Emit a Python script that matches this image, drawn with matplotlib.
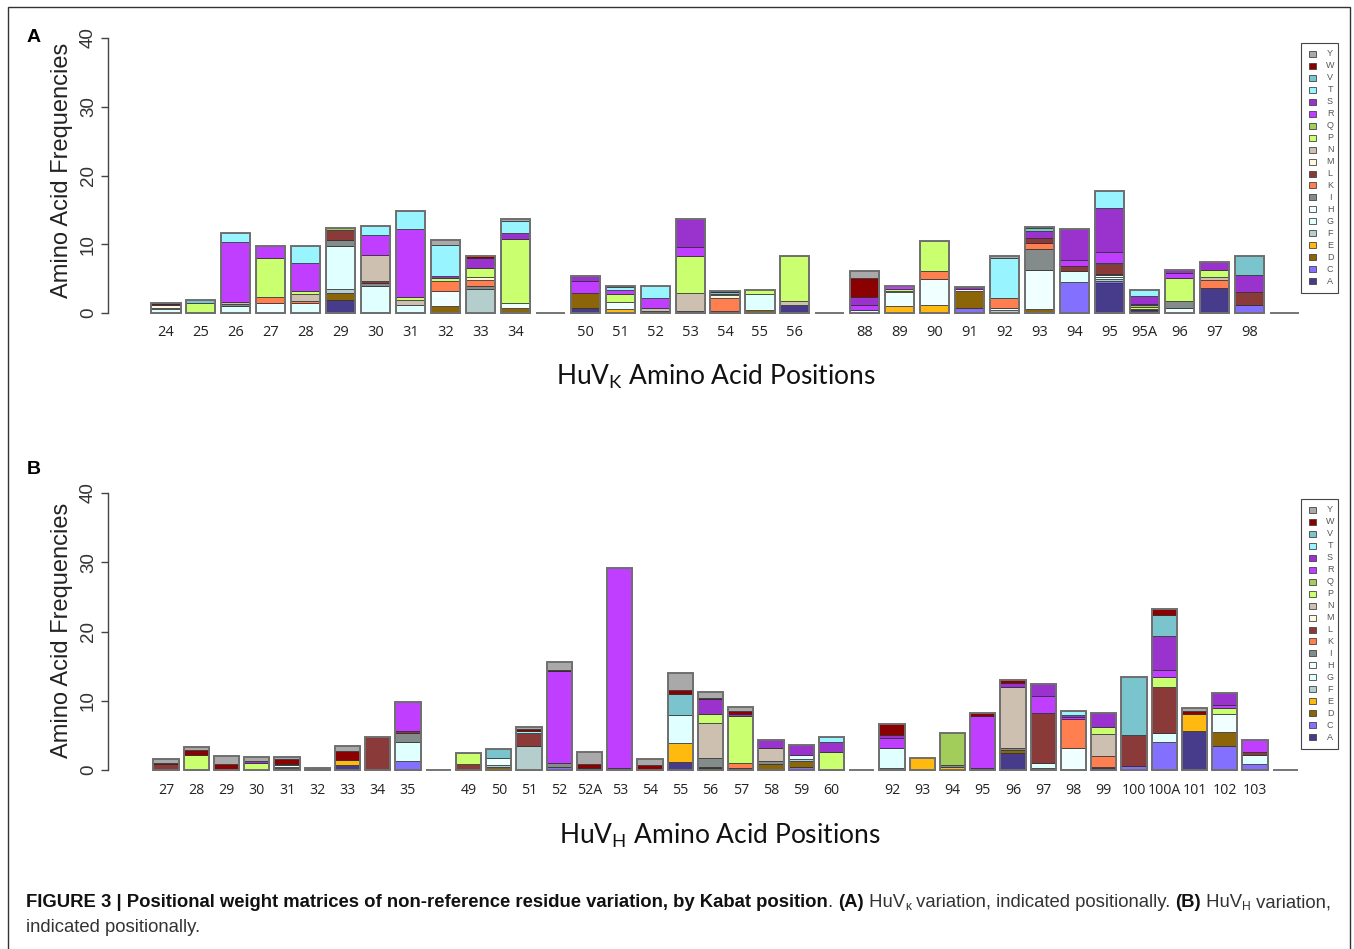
import matplotlib
matplotlib.use('Agg')
import matplotlib.pyplot as plt
from matplotlib.patches import Rectangle
from matplotlib import font_manager as fm

# ---------------- data ----------------
residues = list('ACDEFGHIKLMNPQRSTVWY')
residue_colors = ['#473C8B', '#8470FF', '#8B6508', '#FFB90F', '#B4CDCD',
                  '#E0FFFF', '#F0FFFF', '#838B8B', '#FF7F50', '#8B3A3A',
                  '#FFF8DC', '#CDC0B0', '#CAFF70', '#A2CD5A', '#BF3EFF',
                  '#9A32CD', '#98F5FF', '#7AC5CD', '#8B0000', '#A9A9A9']

kappa_cdr1_labels = ['24', '25', '26', '27', '28', '29', '30', '31', '32', '33', '34']
kappa_cdr1 = [
    {'G': .6, 'H': .1, 'M': .4, 'S': .2, 'W': .2},
    {'I': .2, 'P': 1.3, 'V': .4},
    {'G': 1.0, 'I': .3, 'N': .3, 'R': 8.7, 'T': 1.4},
    {'H': 1.4, 'K': .9, 'P': 5.7, 'R': 1.7},
    {'G': 1.4, 'K': .3, 'N': 1.1, 'P': .4, 'R': 4.1, 'T': 2.4},
    {'A': 1.9, 'D': 1.0, 'F': .6, 'G': 6.2, 'I': .9, 'L': 1.45, 'Q': .25},
    {'A': .2, 'G': 3.8, 'I': .4, 'L': .3, 'N': 3.8, 'R': 2.85, 'T': 1.25},
    {'D': .2, 'G': .9, 'N': .8, 'P': .45, 'R': 9.8, 'T': 2.75},
    {'D': 1.05, 'H': 2.2, 'K': 1.4, 'P': .5, 'S': .3, 'T': 4.45, 'Y': .75},
    {'F': 3.5, 'I': .45, 'K': .9, 'M': .35, 'P': 1.35, 'S': 1.45, 'W': .35},
    {'D': .7, 'H': .75, 'P': 9.3, 'S': .95, 'T': 1.7, 'Y': .25},
]
kappa_cdr2_labels = ['50', '51', '52', '53', '54', '55', '56']
kappa_cdr2 = [
    {'A': .8, 'D': 2.1, 'R': 1.8, 'S': .75},
    {'E': .65, 'H': 1.0, 'P': 1.1, 'R': .6, 'T': .5, 'V': .15},
    {'A': .25, 'N': .5, 'R': 1.45, 'T': 1.7},
    {'A': .3, 'N': 2.6, 'P': 5.35, 'R': 1.35, 'S': 4.1},
    {'H': .3, 'K': 1.85, 'M': .4, 'T': .25, 'V': .2, 'W': .2},
    {'D': .4, 'G': 2.4, 'P': .5},
    {'A': 1.2, 'N': .6, 'P': 6.55},
]
kappa_cdr3_labels = ['88', '89', '90', '91', '92', '93', '94', '95', '95A', '96', '97', '98']
kappa_cdr3 = [
    {'G': .4, 'R': .8, 'S': 1.2, 'W': 2.75, 'Y': .9},
    {'E': 1.0, 'H': 2.0, 'M': .25, 'P': .3, 'R': .45},
    {'E': 1.1, 'H': 3.8, 'K': 1.15, 'P': 4.45},
    {'C': .8, 'D': 2.4, 'M': .25, 'S': .3},
    {'F': .45, 'H': .25, 'K': 1.55, 'T': 5.7, 'Y': .35},
    {'D': .65, 'H': 5.6, 'I': 3.0, 'K': 1.0, 'L': .7, 'S': 1.0, 'V': .35, 'Y': .25},
    {'C': 4.45, 'G': 1.7, 'L': .65, 'R': .95, 'S': 4.45},
    {'A': 4.4, 'C': .25, 'F': .3, 'G': .3, 'H': .3, 'I': .15, 'L': 1.4, 'M': .2,
     'R': 1.55, 'S': 6.45, 'T': 2.5},
    {'A': .4, 'L': .2, 'P': .3, 'Q': .25, 'R': .15, 'S': 1.2, 'T': .9},
    {'H': .7, 'I': 1.0, 'P': 3.4, 'R': .7, 'S': .5},
    {'A': 3.6, 'K': 1.15, 'N': .5, 'P': 1.0, 'S': 1.1},
    {'C': 1.1, 'L': 2.0, 'S': 2.5, 'V': 2.7},
]

heavy_cdr1_labels = ['27', '28', '29', '30', '31', '32', '33', '34', '35']
heavy_cdr1 = [
    {'L': .8, 'W': .15, 'Y': .7},
    {'I': .2, 'P': 1.9, 'W': .85, 'Y': .3},
    {'L': .2, 'W': .6, 'Y': 1.15},
    {'P': .95, 'S': .3, 'Y': .6},
    {'C': .25, 'G': .25, 'H': .15, 'I': .2, 'W': .8, 'Y': .2},
    {'S': .25},
    {'A': .7, 'E': .7, 'W': 1.4, 'Y': .7},
    {'L': 4.7},
    {'C': 1.35, 'G': 2.65, 'I': 1.3, 'L': .4, 'R': 4.05},
]
heavy_cdr2_labels = ['49', '50', '51', '52', '52A', '53', '54', '55', '56', '57', '58', '59', '60']
heavy_cdr2 = [
    {'A': .2, 'L': .7, 'P': 1.5},
    {'D': .45, 'F': .3, 'H': .95, 'V': 1.3},
    {'F': 3.45, 'L': 1.85, 'T': .3, 'W': .25, 'Y': .35},
    {'C': .45, 'I': .5, 'R': 13.3, 'W': .25, 'Y': 1.1},
    {'A': .3, 'W': .5, 'Y': 1.75},
    {'F': .25, 'R': 28.95},
    {'A': .2, 'W': .5, 'Y': .85},
    {'A': 1.2, 'E': 2.75, 'G': 4.05, 'V': 2.95, 'W': .6, 'Y': 2.5},
    {'A': .3, 'D': .15, 'I': 1.25, 'N': 5.15, 'P': 1.25, 'S': 2.1, 'W': .15, 'Y': .95},
    {'A': .25, 'K': .7, 'P': 6.85, 'S': .3, 'W': .4, 'Y': .55},
    {'A': .15, 'D': .75, 'I': .4, 'N': 1.9, 'S': 1.2},
    {'C': .4, 'D': .95, 'F': .3, 'G': .55, 'S': 1.35},
    {'I': .2, 'P': 2.4, 'S': 1.4, 'T': .8},
]
heavy_cdr3_labels = ['92', '93', '94', '95', '96', '97', '98', '99', '100', '100A', '101', '102', '103']
heavy_cdr3 = [
    {'F': .25, 'G': 2.9, 'R': 1.4, 'S': .45, 'W': 1.6},
    {'E': 1.8},
    {'E': .4, 'I': .25, 'Q': 4.75},
    {'A': .3, 'R': 7.55, 'W': .35},
    {'A': 2.4, 'D': .5, 'I': .25, 'N': 8.9, 'S': .45, 'W': .45},
    {'C': .25, 'G': .7, 'L': 7.35, 'R': 2.45, 'S': 1.7},
    {'D': .15, 'H': 3.0, 'K': 4.15, 'R': .3, 'S': .3, 'T': .55},
    {'A': .3, 'C': .2, 'K': 1.55, 'N': 3.1, 'P': 1.05, 'S': 2.0},
    {'C': .6, 'L': 4.4, 'V': 8.4},
    {'C': 4.0, 'G': 1.4, 'L': 6.65, 'P': 1.45, 'R': .95, 'S': 4.9, 'V': 3.05, 'W': .9},
    {'A': 5.65, 'E': 2.5, 'W': .3, 'Y': .55},
    {'C': 3.5, 'D': 2.0, 'H': 2.6, 'P': .85, 'R': .45, 'S': 1.7},
    {'C': .85, 'G': 1.35, 'L': .35, 'R': 1.8},
]

y_ticks = [0, 10, 20, 30, 40]

# ---------------- layout ----------------
W, H = 1354, 949
fig = plt.figure(figsize=(W / 100, H / 100), dpi=100)

names = {f.name for f in fm.fontManager.ttflist}
R_FONT = 'Liberation Sans' if 'Liberation Sans' in names else 'DejaVu Sans'
CAP_FONT = 'Liberation Sans Narrow' if 'Liberation Sans Narrow' in names else R_FONT
TITLE_FONT = 'Lato' if 'Lato' in names else 'DejaVu Sans'
TICK_FONT = 'Open Sans' if 'Open Sans' in names else 'DejaVu Sans'


def fx(px):
    return px / W


def fy(py):
    return 1 - py / H


def build(groups):
    labels, comps = [], []
    for lab, comp in groups:
        labels += lab + ['']
        comps += comp + [{}]
    return labels, comps


def draw_panel(rect_px, groups, xlim, tick_fs):
    l, t, r, b = rect_px
    ax = fig.add_axes([fx(l), fy(b), (r - l) / W, (b - t) / H])
    labels, comps = build(groups)
    bw = 0.833
    for i, comp in enumerate(comps):
        bottom = 0.0
        if not comp:
            ax.bar(i, 0, width=bw, bottom=0, facecolor='none',
                   edgecolor='#6a6a6a', linewidth=1.3, clip_on=False)
            continue
        for aa, col in zip(residues, residue_colors):
            v = comp.get(aa, 0)
            if v > 0:
                ax.bar(i, v, width=bw, bottom=bottom, color=col,
                       edgecolor='#2a2a2a', linewidth=0.5, clip_on=False)
                bottom += v
        ax.bar(i, bottom, width=bw, bottom=0, facecolor='none',
               edgecolor='#707070', linewidth=1.4, clip_on=False)
    ax.set_xlim(*xlim)
    ax.set_ylim(0, 40)
    for s in ['top', 'right', 'bottom']:
        ax.spines[s].set_visible(False)
    ax.spines['left'].set_bounds(0, 40)
    ax.spines['left'].set_color('#444444')
    ax.spines['left'].set_linewidth(1.0)
    ax.set_yticks(y_ticks)
    ax.set_yticklabels([str(v) for v in y_ticks], rotation=90, va='center',
                       fontsize=13.5, family=R_FONT, color='#333333')
    ax.tick_params(axis='y', length=5, width=1.0, color='#444444', pad=3)
    idx = [i for i, lab in enumerate(labels) if lab]
    ax.set_xticks(idx)
    ax.set_xticklabels([labels[i] for i in idx], fontsize=tick_fs,
                       family=TICK_FONT, color='#222222')
    ax.tick_params(axis='x', length=0, pad=9)
    ax.patch.set_alpha(0)
    return ax


# panel A
draw_panel((108, 38, 1295, 313),
           [(kappa_cdr1_labels, kappa_cdr1), (kappa_cdr2_labels, kappa_cdr2),
            (kappa_cdr3_labels, kappa_cdr3)],
           ((108 - 166) / 34.94, (1295 - 166) / 34.94), 10.5)
# panel B
draw_panel((108, 493, 1295, 770),
           [(heavy_cdr1_labels, heavy_cdr1), (heavy_cdr2_labels, heavy_cdr2),
            (heavy_cdr3_labels, heavy_cdr3)],
           ((108 - 166) / 30.25, (1295 - 166) / 30.25), 10.2)

# y labels
for yc in (170, 630):
    fig.text(fx(62), fy(yc), 'Amino Acid Frequencies', rotation=90,
             ha='center', va='center', fontsize=17, family=R_FONT,
             color='#222222')

# x titles
fig.text(fx(716), fy(377), r'HuV$_{\mathregular{K}}$ Amino Acid Positions',
         ha='center', va='center', fontsize=19, family=TITLE_FONT, color='#111111')
fig.text(fx(720), fy(836), r'HuV$_{\mathregular{H}}$ Amino Acid Positions',
         ha='center', va='center', fontsize=19, family=TITLE_FONT, color='#111111')

# panel letters
fig.text(fx(34), fy(38), 'A', ha='center', va='center', fontsize=14,
         weight='bold', family=R_FONT)
fig.text(fx(34), fy(470), 'B', ha='center', va='center', fontsize=14,
         weight='bold', family=R_FONT)

# legends (drawn manually, Y at top .. A at bottom)
for top in (43, 499):
    fig.patches.append(Rectangle((fx(1301), fy(top + 250)), 37 / W, 250 / H,
                                 transform=fig.transFigure, facecolor='white',
                                 edgecolor='#444444', linewidth=0.8))
    for k, (aa, col) in enumerate(zip(residues[::-1], residue_colors[::-1])):
        yc = top + 11 + k * 11.95
        fig.patches.append(Rectangle((fx(1309), fy(yc + 3)), 7 / W, 6 / H,
                                     transform=fig.transFigure, facecolor=col,
                                     edgecolor='#444444', linewidth=0.6))
        fig.text(fx(1330), fy(yc), aa, ha='center', va='center', fontsize=6.5,
                 family=R_FONT, color='#555555')

# outer frame
fig.patches.append(Rectangle((fx(8), -0.02), (1350 - 8) / W, fy(7) + 0.02,
                             transform=fig.transFigure, facecolor='none',
                             edgecolor='#333333', linewidth=1.0))

# caption
renderer = fig.canvas.get_renderer()


def text_width(s, size, weight):
    t1 = fig.text(0, 0, 'x' + s + 'x', fontsize=size, weight=weight, family=CAP_FONT)
    t2 = fig.text(0, 0, 'xx', fontsize=size, weight=weight, family=CAP_FONT)
    w = t1.get_window_extent(renderer).width - t2.get_window_extent(renderer).width
    t1.remove()
    t2.remove()
    return w


line1 = [
    ('FIGURE 3 | Positional weight matrices of non-reference residue variation, by Kabat position', 'bold', False),
    ('. ', 'normal', False),
    ('(A)', 'bold', False),
    (' HuV', 'normal', False),
    ('\u03ba', 'normal', True),
    (' variation, indicated positionally. ', 'normal', False),
    ('(B)', 'bold', False),
    (' HuV', 'normal', False),
    ('H', 'normal', True),
    (' variation,', 'normal', False),
]
line2 = [('indicated positionally.', 'normal', False)]

base = 12.0
tot = sum(text_width(s, base * (0.65 if sub else 1), w) for s, w, sub in line1)
cap_size = base * (1328 - 26) / tot


def draw_runs(x0, ybase, runs, size):
    x = x0
    for s, w, sub in runs:
        fs = size * (0.65 if sub else 1)
        yy = ybase + (3 if sub else 0)
        fig.text(fx(x), fy(yy), s, fontsize=fs, weight=w, family=CAP_FONT,
                 ha='left', va='baseline',
                 color='#111111' if w == 'bold' else '#333333')
        x += text_width(s, fs, w)


draw_runs(26, 907, line1, cap_size)
draw_runs(26, 932, line2, cap_size)

fig.savefig('out.png', dpi=100)
